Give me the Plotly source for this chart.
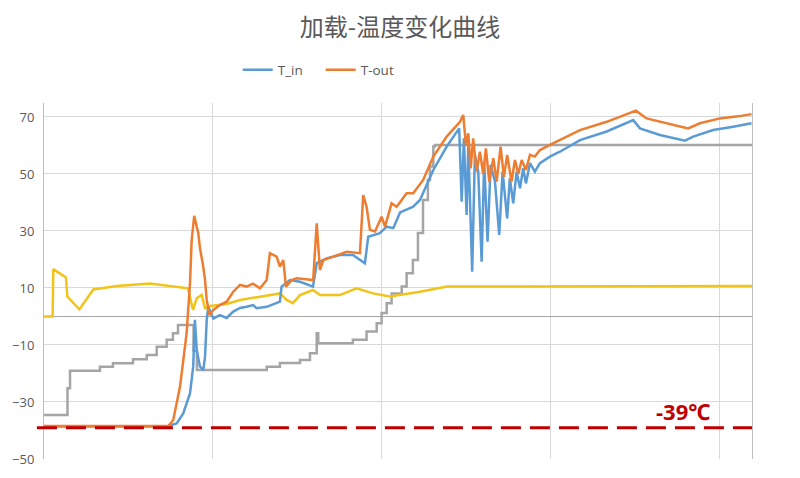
import plotly.graph_objects as go

# readings (x: arbitrary time units, gridline every 100)
t_in_x = [0, 72.6, 78.5, 82.4, 86.4, 88.3, 89.3, 90.4, 92.3, 94.3, 95.3, 96.3, 97.2,
          100.2, 104.1, 108.1, 112.0, 116.0, 119.9, 123.8, 125.8, 131.8, 139.6, 140.6,
          145.6, 151.5, 159.2, 161.4, 167.3, 175.1, 182.8, 187.0, 189.9, 191.9, 198.8,
          202.8, 206.7, 210.7, 218.5, 222.5, 230.4, 238.3, 245.7,
          247.2, 248.5, 250.1, 251.1, 253.4, 255.0, 257.0, 259.0, 260.5, 262.5, 264.3,
          266.9, 269.4, 271.4, 274.1, 275.7, 277.7, 279.7, 281.7, 283.6, 285.2, 287.6,
          290.5, 293.5, 299.4, 305.3, 317.2, 333.0, 348.7, 352.7, 364.5, 379.3, 384.2,
          396.0, 407.9, 418.7]
t_in_y = [-38.6, -38.6, -37.5, -34.0, -27.0, -17.6, -1.2, -11.8, -17.6, -18.8, -14.1, -1.2, 3.4,
          -0.7, 0.5, -0.5, 1.7, 3.0, 3.4, 4.0, 2.9, 3.4, 5.2, 10.5,
          12.8, 12.2, 10.5, 18.7, 20.4, 21.6, 21.6, 19.8, 18.7, 28.0, 29.2,
          31.5, 31.0, 36.5, 38.5, 40.9, 51.4, 59.6, 66.0,
          40.3, 62.5, 35.6, 60.2, 15.7, 56.7, 50.8, 19.2, 54.3, 26.2, 53.2,
          47.3, 28.6, 50.8, 34.4, 48.5, 39.7, 50.8, 45.0, 52.0, 46.7, 53.8,
          50.8, 53.8, 56.1, 57.8, 61.9, 64.9, 68.9, 66.0, 63.7, 61.7, 63.1,
          65.4, 66.6, 67.8]

t_out_x = [0, 73.6, 76.5, 80.5, 84.4, 86.4, 87.4, 88.9, 91.3, 92.3, 94.1, 95.3, 96.3, 97.9,
           100.2, 104.1, 108.1, 112.0, 116.0, 119.9, 123.7, 127.8, 131.8, 133.7, 137.7,
           139.6, 141.6, 143.2, 146.6, 149.5, 159.3, 161.4, 163.3, 165.3, 171.2, 179.1,
           187.0, 188.9, 190.9, 192.9, 195.9, 199.8, 201.8, 205.7, 208.7, 214.6, 218.5,
           224.4, 230.4, 238.3, 246.2, 248.1,
           249.7, 251.1, 252.5, 254.0, 256.0, 258.0, 259.9, 261.5, 263.5, 265.9, 267.9,
           270.2, 272.2, 274.1, 276.7, 278.7, 280.7, 282.7, 285.2, 287.6, 290.5, 293.5,
           299.4, 305.3, 317.2, 333.0, 350.3, 356.6, 368.5, 381.2, 388.2, 400.0, 411.8,
           418.7]
t_out_y = [-38.4, -38.4, -36.3, -24.6, -5.9, 11.6, 26.8, 35.3, 29.2, 24.0, 18.0, 12.8, 5.8, 0.5,
           2.3, 4.0, 5.2, 8.7, 11.1, 10.5, 11.5, 9.9, 12.8, 22.2, 21.0,
           17.5, 19.8, 10.5, 12.8, 13.4, 12.8, 32.7, 16.3, 19.8, 21.0, 22.7,
           22.2, 42.6, 38.5, 30.4, 29.8, 35.0, 31.5, 39.7, 38.5, 43.2, 43.2,
           47.9, 56.1, 63.1, 68.3, 70.7,
           60.2, 64.3, 52.0, 62.5, 50.8, 57.8, 50.0, 59.0, 47.3, 55.5, 47.3,
           59.6, 49.0, 56.7, 47.3, 54.9, 50.0, 54.9, 51.4, 56.7, 56.1, 58.4,
           60.2, 61.9, 65.4, 68.3, 72.2, 69.5, 67.8, 66.0, 67.8, 69.5, 70.3,
           71.0]

gray_x = [0, 13.4, 13.9, 15.4, 29.2, 33.1, 40.8, 52.7, 60.8, 66.7, 72.6, 76.3, 79.3, 86.4,
          88.5, 90.5, 127.8, 131.8, 139.6, 151.5, 157.4, 161.4, 162.3, 179.1, 182.8, 190.9,
          196.9, 199.8, 202.8, 205.7, 211.7, 214.6, 218.3, 221.3, 224.3, 227.2, 228.4,
          230.4, 231.4, 419]
gray_y = [-34.6, -34.6, -25.2, -19.0, -19.0, -17.6, -16.4, -15.0, -13.5, -10.6, -8.2, -5.9, -3.0, -3.0,
          -12.0, -18.8, -18.8, -17.6, -16.3, -15.3, -12.9, -5.9, -9.4, -9.4, -8.2, -5.3,
          -2.4, 1.2, 4.6, 8.1, 10.5, 15.2, 19.8, 29.3, 40.9, 47.9, 52.6,
          59.6, 60.2, 60.2]

yellow_x = [0, 5.1, 5.5, 13.0, 13.8, 20.9, 29.2, 43.0, 62.7, 76.3, 85.2, 88.2, 90.4, 93.3,
            95.3, 98.2, 108.1, 116.0, 131.8, 139.6, 143.6, 147.3, 151.5, 159.2, 163.3,
            175.1, 185.0, 194.7, 204.7, 210.7, 222.5, 238.5, 317.2, 419]
yellow_y = [0.0, 0.0, 16.6, 13.7, 7.0, 2.5, 9.5, 10.7, 11.6, 10.7, 9.9, 2.3, 6.4, 7.6,
            2.9, 3.7, 4.4, 5.8, 7.5, 8.1, 5.8, 4.7, 7.5, 9.3, 7.5,
            7.5, 9.9, 8.1, 7.0, 7.5, 8.7, 10.5, 10.5, 10.7]

limit_temp = -39
y_ticks = [-50, -30, -10, 10, 30, 50, 70]

# the page body adds an 8px margin, so the figure is a bit smaller than the window
W, H = 784, 462

fig = go.Figure()
fig.add_trace(go.Scatter(x=gray_x, y=gray_y, mode="lines", line=dict(color="#A5A5A5", width=2.5, shape="hv"),
                         showlegend=False, hoverinfo="skip"))
fig.add_trace(go.Scatter(x=yellow_x, y=yellow_y, mode="lines", line=dict(color="#F0C419", width=2.5),
                         showlegend=False, hoverinfo="skip"))
fig.add_trace(go.Scatter(x=t_in_x, y=t_in_y, mode="lines", name="T_in",
                         line=dict(color="#5B9BD5", width=2.5)))
fig.add_trace(go.Scatter(x=t_out_x, y=t_out_y, mode="lines", name="T-out",
                         line=dict(color="#ED7D31", width=2.5)))

fig.add_shape(type="line", xref="paper", x0=-0.01, x1=1.0, y0=limit_temp, y1=limit_temp,
              line=dict(color="#C00000", width=3, dash="20px,9px"))
fig.add_annotation(x=378, y=-33, text="<b>-39℃</b>", showarrow=False,
                   font=dict(family="Open Sans, Noto Sans", size=22, color="#C00000"))

fig.update_layout(
    width=W, height=H,
    paper_bgcolor="white", plot_bgcolor="white",
    margin=dict(l=36, r=40, t=95, b=11),
    title=dict(text="加载-温度变化曲线", x=0.5, xanchor="center", y=1 - 20 / H, yanchor="middle",
               font=dict(family="Noto Sans CJK SC", size=24, color="#595959")),
    legend=dict(orientation="h", xref="container", yref="container", x=0.293, y=1 - 62 / H,
                xanchor="left", yanchor="middle", font=dict(family="Open Sans", size=13.5, color="#595959"),
                entrywidth=38, bgcolor="rgba(0,0,0,0)"),
    xaxis=dict(range=[0, 419], dtick=100, tick0=0, showgrid=True, gridcolor="#D9D9D9",
               showticklabels=False, zeroline=False, showline=False, automargin=False),
    yaxis=dict(range=[-50, 74.9], tickvals=y_ticks, showgrid=True, gridcolor="#D9D9D9",
               zeroline=True, zerolinecolor="#A6A6A6", zerolinewidth=1,
               showline=True, linecolor="#BFBFBF", mirror=True, automargin=False,
               ticklabelstandoff=6,
               tickfont=dict(family="Open Sans", size=13, color="#595959")),
    showlegend=True,
)

fig.write_html("out.html")
